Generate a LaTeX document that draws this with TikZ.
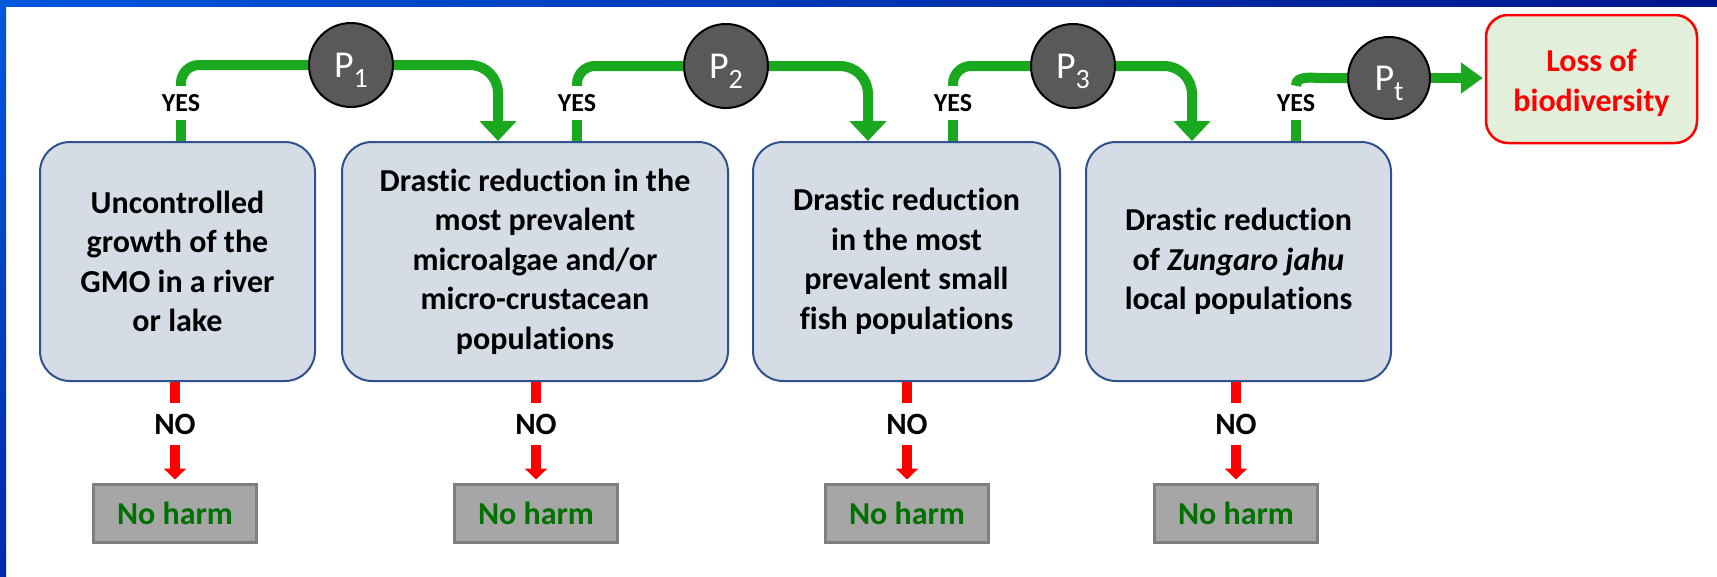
\documentclass[tikz,border=0pt]{standalone}
\usepackage{fontspec}
\setmainfont{Carlito}[Ligatures={NoCommon}]
\usetikzlibrary{arrows.meta}
\definecolor{gcol}{RGB}{26,168,30}
\definecolor{rcol}{RGB}{255,0,0}
\definecolor{boxfill}{RGB}{214,220,229}
\definecolor{boxline}{RGB}{47,82,143}
\definecolor{circfill}{RGB}{89,89,89}
\definecolor{nhfill}{RGB}{166,166,166}
\definecolor{nhline}{RGB}{127,127,127}
\definecolor{nhtext}{RGB}{0,112,0}
\definecolor{lossfill}{RGB}{226,239,218}
\definecolor{bluea}{RGB}{0,88,220}
\definecolor{blueb}{RGB}{0,20,140}
\definecolor{bluec}{RGB}{0,40,175}
\newcommand\psub[2]{#1\raisebox{-10pt}[0pt][0pt]{\fontsize{28}{28}\selectfont #2}}
\tikzset{
 stepbox/.style={draw=boxline, fill=boxfill, line width=2pt, rounded corners=30pt, align=center,
   font=\fontsize{32}{39.5}\selectfont\bfseries, inner sep=0pt, minimum height=239pt},
 pcirc/.style={circle, draw=black, line width=2pt, fill=circfill, minimum size=84pt, inner sep=0pt,
   text=white, font=\fontsize{38}{38}\selectfont},
 nharm/.style={draw=nhline, fill=nhfill, line width=3pt, minimum width=163pt, minimum height=58pt,
   inner sep=0pt, text=nhtext, font=\fontsize{32}{32}\selectfont\bfseries},
 lossbox/.style={draw=rcol, fill=lossfill, line width=2.5pt, rounded corners=22pt, minimum width=211pt,
   minimum height=128pt, inner sep=0pt, text=rcol, font=\fontsize{32}{40}\selectfont\bfseries},
 yeslab/.style={font=\fontsize{26}{26}\selectfont\bfseries, inner sep=0pt, minimum height=34pt},
 nolab/.style={font=\fontsize{31}{31}\selectfont\bfseries, inner sep=0pt, minimum height=42pt},
 gline/.style={draw=gcol, line width=10pt},
 garrow/.style={gline, -{Triangle[width=36pt,length=20pt]}},
 rline/.style={draw=rcol, line width=10pt},
 rarrow/.style={rline, -{Triangle[width=22pt,length=11pt]}},
}
\begin{document}
\begin{tikzpicture}[x=1pt,y=-1pt]
\useasboundingbox (0,0) rectangle (1717,576);
\fill[white] (0,0) rectangle (1717,576);
\shade[left color=bluea, right color=blueb] (0,0) rectangle (1717,6);
\shade[top color=bluea, bottom color=bluec] (0,0) rectangle (6,576);

% main boxes
\node[stepbox, minimum width=275pt] (b1) at (177.5,261.5) {Uncontrolled\\growth of the\\GMO in a river\\or lake};
\node[stepbox, minimum width=386pt] (b2) at (535,261.5) {Drastic reduction in the\\most prevalent\\microalgae and/or\\micro-crustacean\\populations};
\node[stepbox, minimum width=307pt] (b3) at (906.5,261.5) {Drastic reduction\\in the most\\prevalent small\\fish populations};
\node[stepbox, minimum width=305pt] (b4) at (1238.5,261.5) {Drastic reduction\\of \textit{Zungaro jahu}\\local populations};

% probability circles
\node[pcirc] (p1) at (351,65) {\psub{P}{1}};
\node[pcirc] (p2) at (726,66) {\psub{P}{2}};
\node[pcirc] (p3) at (1073,66) {\psub{P}{3}};
\node[pcirc, minimum size=82pt] (pt) at (1389,78) {\psub{P}{t}};

\node[lossbox] (loss) at (1591.5,79) {\raisebox{-4pt}[\height][\depth]{\begin{tabular}{@{}c@{}}Loss of\\biodiversity\end{tabular}}};

% YES labels
\node[yeslab] (yes1) at (181,103) {YES};
\node[yeslab] (yes2) at (577,103) {YES};
\node[yeslab] (yes3) at (953,103) {YES};
\node[yeslab] (yes4) at (1296,103) {YES};

% NO labels
\node[nolab] (no1) at (175,424) {NO};
\node[nolab] (no2) at (536,424) {NO};
\node[nolab] (no3) at (907,424) {NO};
\node[nolab] (no4) at (1236,424) {NO};

% No harm boxes
\node[nharm] (nh1) at (175,513) {No harm};
\node[nharm] (nh2) at (536,513) {No harm};
\node[nharm] (nh3) at (907,513) {No harm};
\node[nharm] (nh4) at (1236,513) {No harm};

% arrow columns
\coordinate (a1) at (498,0);
\coordinate (a2) at (868,0);
\coordinate (a3) at (1192,0);
\coordinate (c4) at (1322,78);

% green YES paths
\draw[gline] (b1.north -| yes1) -- (yes1.south);
\draw[gline, rounded corners=18pt] (yes1.north) |- (p1);
\draw[garrow, rounded corners=28pt] (p1) -| (b2.north -| a1);

\draw[gline] (b2.north -| yes2) -- (yes2.south);
\draw[gline, rounded corners=18pt] (yes2.north) |- (p2);
\draw[garrow, rounded corners=28pt] (p2) -| (b3.north -| a2);

\draw[gline] (b3.north -| yes3) -- (yes3.south);
\draw[gline, rounded corners=18pt] (yes3.north) |- (p3);
\draw[garrow, rounded corners=28pt] (p3) -| (b4.north -| a3);

\draw[gline] (b4.north -| yes4) -- (yes4.south);
\draw[gline] (yes4.north) to[out=90,in=180] (c4) -- (pt);
\draw[gline, -{Triangle[width=30pt,length=22pt]}, shorten >=2pt] (pt.east) -- (loss.west |- pt.east);

% red NO paths
\draw[rline] (b1.south -| no1) -- (no1.north);
\draw[rarrow, shorten >=3pt] (no1.south) -- (nh1.north);
\draw[rline] (b2.south -| no2) -- (no2.north);
\draw[rarrow, shorten >=3pt] (no2.south) -- (nh2.north);
\draw[rline] (b3.south -| no3) -- (no3.north);
\draw[rarrow, shorten >=3pt] (no3.south) -- (nh3.north);
\draw[rline] (b4.south -| no4) -- (no4.north);
\draw[rarrow, shorten >=3pt] (no4.south) -- (nh4.north);
\end{tikzpicture}
\end{document}
